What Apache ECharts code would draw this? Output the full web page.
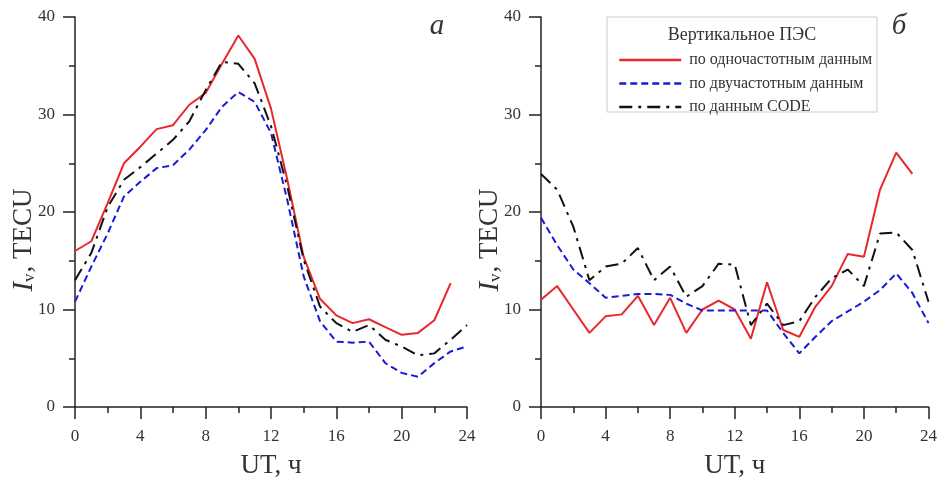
<!DOCTYPE html>
<html><head><meta charset="utf-8">
<script src="https://cdn.jsdelivr.net/npm/echarts@6/dist/echarts.min.js"></script>
<style>html,body{margin:0;padding:0;background:#fff}#c{width:940px;height:484px}</style>
</head><body><div id="c"></div>
<script>
const hours = [0,1,2,3,4,5,6,7,8,9,10,11,12,13,14,15,16,17,18,19,20,21,22,23,24];
const seriesNames = ['по одночастотным данным','по двучастотным данным','по данным CODE'];
// Panel a
const aSingle = [16.0,17.0,20.9,25.0,26.7,28.5,28.9,31.0,32.2,35.2,38.1,35.7,30.6,23.3,15.4,11.1,9.4,8.6,9.0,8.2,7.4,7.6,8.9,12.7,null];
const aDual   = [10.8,14.4,17.8,21.6,23.1,24.5,24.8,26.4,28.4,30.8,32.3,31.3,28.1,21.2,13.4,8.8,6.7,6.6,6.7,4.5,3.5,3.1,4.5,5.7,6.2];
const aCode   = [13.0,15.8,20.5,23.3,24.6,26.0,27.4,29.3,32.5,35.4,35.2,33.2,28.8,22.6,15.1,10.3,8.6,7.7,8.4,6.9,6.2,5.3,5.5,6.9,8.4];
// Panel б
const bSingle = [11.0,12.4,10.0,7.6,9.3,9.5,11.4,8.4,11.2,7.6,10.0,10.9,10.0,7.0,12.8,7.9,7.2,10.3,12.4,15.7,15.4,22.3,26.1,23.9,null];
const bDual   = [19.4,16.6,14.1,12.7,11.2,11.4,11.6,11.6,11.5,10.6,9.9,9.9,9.9,9.9,9.9,7.6,5.5,7.2,8.8,9.8,10.8,12.0,13.7,11.7,8.6];
const bCode   = [23.9,22.3,18.5,13.0,14.4,14.7,16.3,13.0,14.4,11.3,12.4,14.7,14.6,8.4,10.6,8.4,8.8,11.3,13.2,14.1,12.4,17.8,17.9,16.1,10.8];
const xTicks = [0,4,8,12,16,20,24];
const yTicks = [0,10,20,30,40];
const panelLabels = ['а','б'];
const legendTitle = 'Вертикальное ПЭС';
const xName = 'UT, ч';

const serif = '"Liberation Serif","DejaVu Serif",serif';
const colors = ['#e8282c','#1a1ad6','#111111'];
const lineTypes = ['solid',[7,4],[13,6,3,6]];
const axisColor = '#222';

function pairs(arr){ return hours.map((h,i)=>[h,arr[i]]); }

const grids = [
  {left:75, right:473, top:17, bottom:76},
  {left:541, right:10, top:17, bottom:76}
];
function xAxis(i){
  return {gridIndex:i,type:'value',min:0,max:24,interval:4,
    axisLine:{show:true,lineStyle:{color:axisColor,width:1.5}},
    axisTick:{show:true,inside:false,length:12,lineStyle:{color:axisColor,width:1.5}},
    minorTick:{show:true,splitNumber:2,length:6,lineStyle:{color:axisColor,width:1.5}},
    splitLine:{show:false},
    axisLabel:{fontFamily:serif,fontSize:17,color:'#333',margin:21,
      formatter:v=>xTicks.includes(v)?String(v):''},
    name:xName,nameLocation:'middle',nameGap:45,
    nameTextStyle:{fontFamily:serif,fontSize:27,color:'#333'}};
}
function yAxis(i){
  return {gridIndex:i,type:'value',min:0,max:40,interval:10,
    axisLine:{show:true,lineStyle:{color:axisColor,width:1.5}},
    axisTick:{show:true,inside:false,length:12,lineStyle:{color:axisColor,width:1.5}},
    minorTick:{show:true,splitNumber:2,length:6,lineStyle:{color:axisColor,width:1.5}},
    splitLine:{show:false},
    axisLabel:{fontFamily:serif,fontSize:17,color:'#333',margin:20,
      formatter:v=>yTicks.includes(v)?String(v):''}};
}
function yName(x,y){
  return {type:'text',x:x,y:y,rotation:Math.PI/2,
    style:{text:'{i|I}{s|v}{n|, TECU}',align:'center',verticalAlign:'middle',
      rich:{i:{fontFamily:serif,fontStyle:'italic',fontSize:29,fill:'#333',color:'#333'},
            s:{fontFamily:serif,fontSize:17,fill:'#333',color:'#333',padding:[12,1,0,0]},
            n:{fontFamily:serif,fontSize:27,fill:'#333',color:'#333'}}}};
}
function mk(name,data,k,gi){
  return {name:name,type:'line',xAxisIndex:gi,yAxisIndex:gi,data:pairs(data),
    symbol:'none',showSymbol:false,connectNulls:false,
    lineStyle:{color:colors[k],width:2,type:lineTypes[k]},itemStyle:{color:colors[k]},
    emphasis:{disabled:true},animation:false};
}
const option = {
  backgroundColor:'#fff',animation:false,
  grid:grids,
  xAxis:[xAxis(0),xAxis(1)],
  yAxis:[yAxis(0),yAxis(1)],
  legend:{orient:'vertical',left:613,top:47,itemWidth:62,itemHeight:14,itemGap:7.5,
    data:seriesNames,
    selectedMode:false,
    itemStyle:{opacity:0},
    lineStyle:{width:2.5},
    textStyle:{fontFamily:serif,fontSize:16,color:'#333',padding:[0,0,0,3]}},
  graphic:[
    {type:'rect',shape:{x:607,y:17,width:270,height:95},style:{fill:'#fff',stroke:'#ccc',lineWidth:1},z:-1},
    {type:'text',x:742,y:35,style:{text:legendTitle,fontFamily:serif,fontSize:18,fill:'#333',align:'center',verticalAlign:'middle'}},
    {type:'text',x:437,y:26,style:{text:panelLabels[0],fontFamily:serif,fontStyle:'italic',fontSize:29,fill:'#333',align:'center',verticalAlign:'middle'}},
    {type:'text',x:899,y:26,style:{text:panelLabels[1],fontFamily:serif,fontStyle:'italic',fontSize:29,fill:'#333',align:'center',verticalAlign:'middle'}},
    yName(24,240),
    yName(490,240)
  ],
  series:[
    mk(seriesNames[0],aSingle,0,0),mk(seriesNames[1],aDual,1,0),mk(seriesNames[2],aCode,2,0),
    mk(seriesNames[0],bSingle,0,1),mk(seriesNames[1],bDual,1,1),mk(seriesNames[2],bCode,2,1)
  ]
};
const chart = echarts.init(document.getElementById('c'),null,{renderer:'canvas'});
chart.setOption(option);
</script></body></html>
